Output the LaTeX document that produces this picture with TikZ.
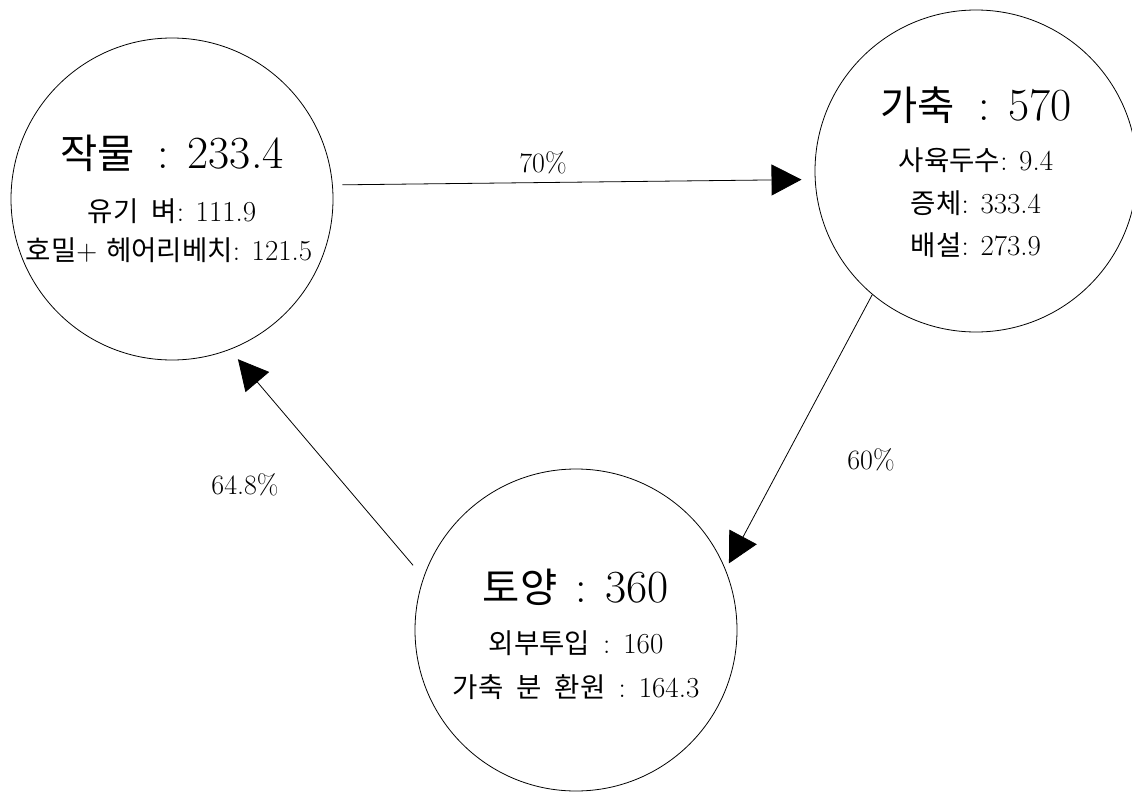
\documentclass[tikz,border=0pt]{standalone}
\usepackage{fontspec}
\newfontfamily\kr{Noto Sans CJK KR}[Scale=0.95]
\newfontfamily\krbig{Noto Sans CJK KR}[Scale=0.88]
\newcommand\wgap{\hspace{0.45em}}
\usetikzlibrary{arrows.meta}
\tikzset{
  pool/.style={circle, draw, line width=0.8pt, minimum size=322pt, inner sep=0pt},
  title/.style={anchor=base, inner sep=0pt, font=\fontsize{46}{52}\selectfont},
  detail/.style={anchor=base, inner sep=0pt, font=\fontsize{29}{33}\selectfont},
  share/.style={inner sep=0pt, font=\fontsize{28}{32}\selectfont},
  flow/.style={line width=0.8pt, -{Triangle[length=30pt,width=31pt]}},
}
\begin{document}
\begin{tikzpicture}[x=1pt,y=-1pt]
\useasboundingbox (0,0) rectangle (1132,792);

% the three pools
\node[pool] (crop)  at (172,199) {};
\node[pool] (stock) at (976,171) {};
\node[pool] (soil)  at (576,630) {};

% crops
\node[title]  (cropT) at (172,168) {{\krbig 작물}\hspace{0.5em}:\hspace{0.4em}233.4};
\node[detail] (cropA) at (172,221) {{\kr 유기}\wgap{\kr 벼}: 111.9};
\node[detail] (cropB) at (169,260) {{\kr 호밀}+ {\kr 헤어리베치}: 121.5};

% livestock
\node[title]  (stockT) at (976,120) {{\krbig 가축}\hspace{0.5em}:\hspace{0.4em}570};
\node[detail] (stockA) at (976,170) {{\kr 사육두수}: 9.4};
\node[detail] (stockB) at (976,213) {{\kr 증체}: 333.4};
\node[detail] (stockC) at (976,255) {{\kr 배설}: 273.9};

% soil
\node[title]  (soilT) at (576,602) {{\krbig 토양}\hspace{0.4em}:\hspace{0.4em}360};
\node[detail] (soilA) at (576,653) {{\kr 외부투입}\wgap:\wgap160};
\node[detail] (soilB) at (576,697) {{\kr 가축}\wgap{\kr 분}\wgap{\kr 환원}\wgap:\wgap164.3};

% flows between pools
\draw[flow, shorten <=9.6pt, shorten >=13.3pt] (crop.5) -- (stock.183.6);
\draw[flow, shorten >=7pt] (stock.230.3) -- (soil.22.6);
\draw[flow, shorten <=16pt, shorten >=12.5pt] (soil.161.6) -- (crop.291.9);

% flow shares
\node[share] (l70)  at (543,163) {70\%};
\node[share] (l60)  at (871,460) {60\%};
\node[share] (l648) at (245,485) {64.8\%};
\end{tikzpicture}
\end{document}
